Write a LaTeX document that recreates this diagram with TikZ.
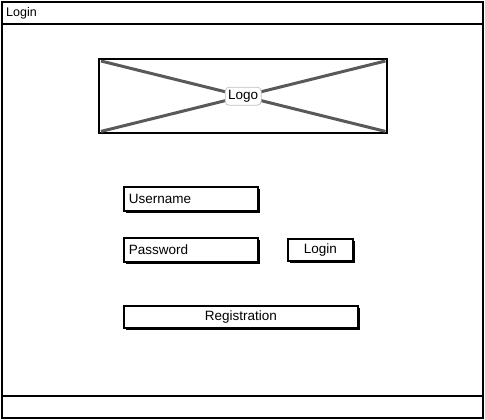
\documentclass[tikz,border=0pt]{standalone}
\usepackage{fontspec}
\setmainfont{Liberation Sans}
\usetikzlibrary{shadows}
\tikzset{
  frame/.style={draw=black, line width=2pt},
  field/.style={draw=black, line width=1.6pt, fill=white, anchor=north west,
    inner xsep=5pt, inner ysep=0pt, align=left, font=\fontsize{13.5}{15}\selectfont,
    drop shadow={shadow xshift=2.2pt, shadow yshift=-2.2pt, fill=black, opacity=1}},
  btn/.style={field, align=center},
  logolabel/.style={draw=black!25, rounded corners=4pt, fill=white, line width=0.7pt,
    inner xsep=3pt, inner ysep=3pt, font=\fontsize{13.5}{15}\selectfont},
  xline/.style={draw=black!65, line width=3pt},
}
\begin{document}
\begin{tikzpicture}[x=1pt, y=-1pt]
\useasboundingbox (0,0) rectangle (485,420);
% window frame
\draw[frame] (2,2) rectangle (483,418);
\draw[frame] (2,24) -- (483,24);
\draw[frame] (2,396) -- (483,396);
\node[anchor=west, inner sep=0pt, font=\fontsize{12.5}{14}\selectfont] (title) at (6,13) {Login};
% logo placeholder
\node[draw=black, line width=2.4pt, minimum width=288pt, minimum height=74pt, anchor=north west, inner sep=0pt] (logo) at (98,58) {};
\draw[xline] ([xshift=3pt,yshift=-3pt]logo.north west) -- ([xshift=-3pt,yshift=3pt]logo.south east);
\draw[xline] ([xshift=3pt,yshift=3pt]logo.south west) -- ([xshift=-3pt,yshift=-3pt]logo.north east);
\node[logolabel] (logotext) at (logo.center) {Logo};
% fields
\node[field, text width=124pt, minimum height=24pt] (user) at (123,186) {Username};
\node[field, text width=124pt, minimum height=24pt] (pass) at (123,237) {Password};
\node[btn, text width=55pt, minimum height=22pt] (login) at (287,238) {Login};
\node[btn, text width=224pt, minimum height=22pt] (reg) at (123,305) {Registration};
\end{tikzpicture}
\end{document}
